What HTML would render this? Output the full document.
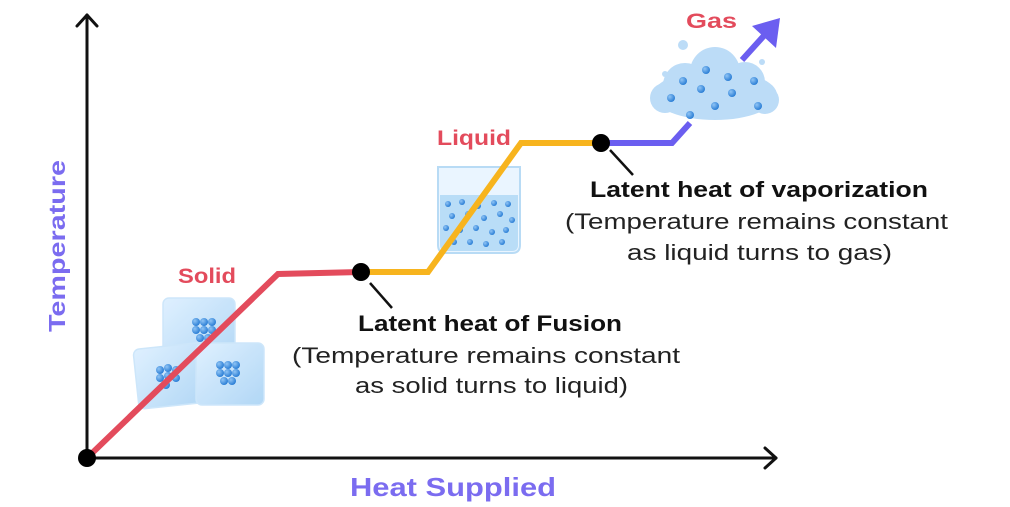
<!DOCTYPE html>
<html><head><style>
body{margin:0;background:#fff;}
svg{display:block;font-family:"Liberation Sans",sans-serif;}
</style></head><body>
<svg width="1010" height="507" viewBox="0 0 1010 507">
<defs>
<radialGradient id="b" cx="35%" cy="35%" r="65%"><stop offset="0" stop-color="#8fc4f5"/><stop offset="1" stop-color="#2c7fd6"/></radialGradient>
<linearGradient id="ice" x1="0" y1="0" x2="1" y2="1"><stop offset="0" stop-color="#dcefff"/><stop offset="1" stop-color="#a9d3f5"/></linearGradient>
</defs>
<g stroke="#111" stroke-width="3" fill="none" stroke-linecap="round" stroke-linejoin="round">
<line x1="87" y1="458" x2="87" y2="15"/><polyline points="77,26 87,15 97,26"/>
<line x1="87" y1="458" x2="776" y2="458"/><polyline points="765,448 776,458 765,468"/>
</g>
<g opacity="0.9" stroke="#c8e4fa" stroke-width="1.5">
<rect x="163" y="298" width="72" height="66" rx="6" fill="url(#ice)"/>
<rect x="136" y="346" width="70" height="60" rx="6" fill="url(#ice)" transform="rotate(-6 169 377)"/>
<rect x="196" y="343" width="68" height="62" rx="6" fill="url(#ice)"/>
</g>
<g fill="url(#b)">
<circle cx="196" cy="322" r="4"/><circle cx="204" cy="322" r="4"/><circle cx="212" cy="322" r="4"/><circle cx="196" cy="330" r="4"/><circle cx="204" cy="330" r="4"/><circle cx="212" cy="330" r="4"/><circle cx="200" cy="338" r="4"/><circle cx="208" cy="338" r="4"/>
<circle cx="160" cy="370" r="4"/><circle cx="168" cy="368" r="4"/><circle cx="176" cy="370" r="4"/><circle cx="160" cy="378" r="4"/><circle cx="168" cy="376" r="4"/><circle cx="176" cy="378" r="4"/><circle cx="166" cy="385" r="4"/>
<circle cx="220" cy="365" r="4"/><circle cx="228" cy="365" r="4"/><circle cx="236" cy="365" r="4"/><circle cx="220" cy="373" r="4"/><circle cx="228" cy="373" r="4"/><circle cx="236" cy="373" r="4"/><circle cx="224" cy="381" r="4"/><circle cx="232" cy="381" r="4"/>
</g>
<path d="M438,167 L520,167 L520,245 Q520,253 512,253 L446,253 Q438,253 438,245 Z" fill="#eaf5ff" stroke="#b8dbf5" stroke-width="2"/>
<path d="M440,195 L518,195 L518,245 Q518,251 512,251 L446,251 Q440,251 440,245 Z" fill="#b9ddf7"/>
<g fill="url(#b)">
<circle cx="448" cy="204" r="3"/><circle cx="462" cy="202" r="3"/><circle cx="478" cy="206" r="3"/><circle cx="494" cy="203" r="3"/><circle cx="508" cy="204" r="3"/>
<circle cx="452" cy="216" r="3"/><circle cx="468" cy="214" r="3"/><circle cx="484" cy="218" r="3"/><circle cx="500" cy="214" r="3"/><circle cx="512" cy="220" r="3"/>
<circle cx="446" cy="228" r="3"/><circle cx="460" cy="230" r="3"/><circle cx="476" cy="228" r="3"/><circle cx="492" cy="232" r="3"/><circle cx="506" cy="230" r="3"/>
<circle cx="454" cy="242" r="3"/><circle cx="470" cy="242" r="3"/><circle cx="486" cy="244" r="3"/><circle cx="502" cy="242" r="3"/>
</g>
<g fill="#bcdcf7">
<ellipse cx="715" cy="95" rx="62" ry="25"/><circle cx="685" cy="85" r="22"/><circle cx="715" cy="72" r="25"/><circle cx="745" cy="82" r="20"/><circle cx="665" cy="98" r="15"/><circle cx="765" cy="100" r="14"/>
<circle cx="683" cy="45" r="5"/><circle cx="665" cy="74" r="3"/><circle cx="762" cy="62" r="3"/>
</g>
<g fill="url(#b)">
<circle cx="706" cy="70" r="4"/><circle cx="683" cy="81" r="4"/><circle cx="701" cy="89" r="4"/><circle cx="728" cy="77" r="4"/><circle cx="754" cy="81" r="4"/><circle cx="671" cy="98" r="4"/><circle cx="732" cy="93" r="4"/><circle cx="715" cy="106" r="4"/><circle cx="690" cy="115" r="4"/><circle cx="758" cy="106" r="4"/>
</g>
<g fill="none" stroke-width="6" stroke-linejoin="miter">
<polyline points="87,458 278,274 361,272" stroke="#e34b5c"/>
<polyline points="361,272 428,272 521,143 601,143" stroke="#f7b41e"/>
<polyline points="601,143 672,143 690,123" stroke="#6b5ef0"/>
<line x1="742" y1="60" x2="770" y2="29" stroke="#6b5ef0"/>
</g>
<polygon points="780,18 776,48 752,26" fill="#6b5ef0"/>
<circle cx="87" cy="458" r="9" fill="#000"/>
<circle cx="361" cy="272" r="9" fill="#000"/>
<circle cx="601" cy="143" r="9" fill="#000"/>
<line x1="370" y1="283" x2="392" y2="308" stroke="#111" stroke-width="2.5"/>
<line x1="610" y1="150" x2="633" y2="175" stroke="#111" stroke-width="2.5"/>
<g font-weight="bold" fill="#e34b5c" font-size="21" lengthAdjust="spacingAndGlyphs">
<text x="178" y="283" textLength="58" lengthAdjust="spacingAndGlyphs">Solid</text>
<text x="437" y="145" textLength="74" lengthAdjust="spacingAndGlyphs">Liquid</text>
<text x="686" y="28" textLength="51" lengthAdjust="spacingAndGlyphs">Gas</text>
</g>
<g font-weight="bold" fill="#111" font-size="22">
<text x="358" y="331" textLength="264" lengthAdjust="spacingAndGlyphs">Latent heat of Fusion</text>
<text x="590" y="197" textLength="338" lengthAdjust="spacingAndGlyphs">Latent heat of vaporization</text>
</g>
<g fill="#222" font-size="22">
<text x="292" y="363" textLength="388" lengthAdjust="spacingAndGlyphs">(Temperature remains constant</text>
<text x="355" y="393" textLength="273" lengthAdjust="spacingAndGlyphs">as solid turns to liquid)</text>
<text x="565" y="229" textLength="383" lengthAdjust="spacingAndGlyphs">(Temperature remains constant</text>
<text x="627" y="260" textLength="265" lengthAdjust="spacingAndGlyphs">as liquid turns to gas)</text>
</g>
<text x="350" y="496" textLength="206" lengthAdjust="spacingAndGlyphs" font-weight="bold" font-size="26" fill="#7b6cf0">Heat  Supplied</text>
<text transform="translate(65,332) rotate(-90)" textLength="172" lengthAdjust="spacingAndGlyphs" font-weight="bold" font-size="23" fill="#7b6cf0">Temperature</text>
</svg>
</body></html>
